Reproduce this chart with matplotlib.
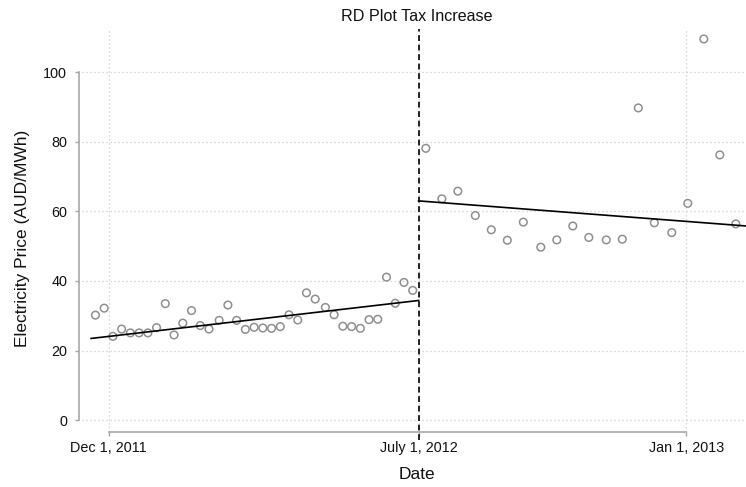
import matplotlib
matplotlib.use("Agg")
import matplotlib.pyplot as plt
import matplotlib.dates as mdates
import pandas as pd

# Binned average prices before the tax change
left_dates = ["2011-11-22", "2011-11-28", "2011-12-04", "2011-12-10", "2011-12-16",
              "2011-12-22", "2011-12-28", "2012-01-03", "2012-01-09", "2012-01-15",
              "2012-01-21", "2012-01-27", "2012-02-02", "2012-02-08", "2012-02-15",
              "2012-02-21", "2012-02-27", "2012-03-04", "2012-03-10", "2012-03-16",
              "2012-03-22", "2012-03-28", "2012-04-03", "2012-04-09", "2012-04-15",
              "2012-04-21", "2012-04-28", "2012-05-04", "2012-05-10", "2012-05-16",
              "2012-05-22", "2012-05-28", "2012-06-03", "2012-06-09", "2012-06-15",
              "2012-06-21", "2012-06-27"]
left_vals = [30.2, 32.2, 24.1, 26.2, 25.1, 25.1, 25.1, 26.6, 33.5, 24.5,
             27.9, 31.5, 27.2, 26.2, 28.7, 33.1, 28.7, 26.1, 26.7, 26.5,
             26.4, 26.9, 30.3, 28.8, 36.6, 34.8, 32.4, 30.3, 27.0, 26.9,
             26.4, 28.9, 29.0, 41.1, 33.6, 39.6, 37.3]

# Binned average prices after the tax change
right_dates = ["2012-07-06", "2012-07-17", "2012-07-28", "2012-08-09", "2012-08-20",
               "2012-08-31", "2012-09-11", "2012-09-23", "2012-10-04", "2012-10-15",
               "2012-10-26", "2012-11-07", "2012-11-18", "2012-11-29", "2012-12-10",
               "2012-12-22", "2013-01-02", "2013-01-13", "2013-01-24", "2013-02-04"]
right_vals = [78.1, 63.6, 65.8, 58.8, 54.7, 51.7, 56.9, 49.7, 51.8, 55.8,
              52.5, 51.8, 52.0, 89.7, 56.7, 53.9, 62.3, 109.5, 76.2, 56.4]

# Linear fits on each side of the cutoff
left_fit_dates = ["2011-11-19", "2012-07-01"]
left_fit_vals = [23.5, 34.4]
right_fit_dates = ["2012-07-01", "2013-02-11"]
right_fit_vals = [63.0, 55.8]

cutoff = "2012-07-01"
xtick_dates = ["2011-12-01", "2012-07-01", "2013-01-01"]
xtick_labels = ["Dec 1, 2011", "July 1, 2012", "Jan 1, 2013"]
yticks = [0, 20, 40, 60, 80, 100]

plt.rcParams["font.family"] = ["Liberation Sans", "DejaVu Sans"]

W, H = 746, 487
fig = plt.figure(figsize=(W / 100, H / 100), dpi=100)
ax = fig.add_axes([79 / W, (H - 440) / H, (W - 79) / W, (440 - 29) / H])

to_dt = pd.to_datetime
x0 = to_dt("2011-12-01")
ax.set_xlim(x0 - pd.Timedelta(days=20.3), x0 + pd.Timedelta(days=438.0))
ax.set_ylim(-5.66, 112.36)

grid_c = "#cfcfcf"
spine_c = "#a8a8a8"

for d in xtick_dates:
    ax.plot([to_dt(d), to_dt(d)], [-3.27, 112.36], color=grid_c, lw=0.9,
            ls=(0, (1, 2.2)), zorder=1)
for v in yticks:
    ax.axhline(v, xmin=0.005, color=grid_c, lw=0.9, ls=(0, (1, 2.2)), zorder=1)

ax.scatter(to_dt(left_dates), left_vals, s=30, facecolors="none",
           edgecolors="#8f8f8f", linewidths=1.1, zorder=3)
ax.scatter(to_dt(right_dates), right_vals, s=30, facecolors="none",
           edgecolors="#8f8f8f", linewidths=1.1, zorder=3)

ax.plot(to_dt(left_fit_dates), left_fit_vals, color="black", lw=1.2, zorder=4)
ax.plot(to_dt(right_fit_dates), right_fit_vals, color="black", lw=1.2, zorder=4)

ax.axvline(to_dt(cutoff), color="black", lw=1.2, ls=(0, (3.5, 2.2)), zorder=5)

for s in ["top", "right"]:
    ax.spines[s].set_visible(False)
ax.spines["left"].set_bounds(0, 100)
ax.spines["left"].set_color(spine_c)
ax.spines["left"].set_linewidth(1.2)
ax.spines["bottom"].set_position(("data", -3.27))
ax.spines["bottom"].set_bounds(mdates.date2num(to_dt(xtick_dates[0])),
                               mdates.date2num(to_dt(xtick_dates[-1])))
ax.spines["bottom"].set_color(spine_c)
ax.spines["bottom"].set_linewidth(1.2)

ax.set_yticks(yticks)
ax.set_yticklabels([str(v) for v in yticks])
ax.set_xticks(to_dt(xtick_dates))
ax.set_xticklabels(xtick_labels)
ax.tick_params(axis="both", colors=spine_c, labelcolor="#111111",
               labelsize=10.4, length=3, width=1.0)
ax.tick_params(axis="y", pad=5.5)
ax.tick_params(axis="x", pad=4)

ax.set_ylabel("Electricity Price (AUD/MWh)", fontsize=12.5, color="#111111")
ax.yaxis.set_label_coords(-0.073, 0.49)
ax.set_xlabel("Date", fontsize=12.5, color="#111111")
ax.xaxis.set_label_coords(0.507, -0.066)

fig.text(417 / W, 1 - 21 / H, "RD Plot Tax Increase", ha="center",
         va="baseline", fontsize=11.6, color="#111111")

fig.savefig("out.png", dpi=100)
